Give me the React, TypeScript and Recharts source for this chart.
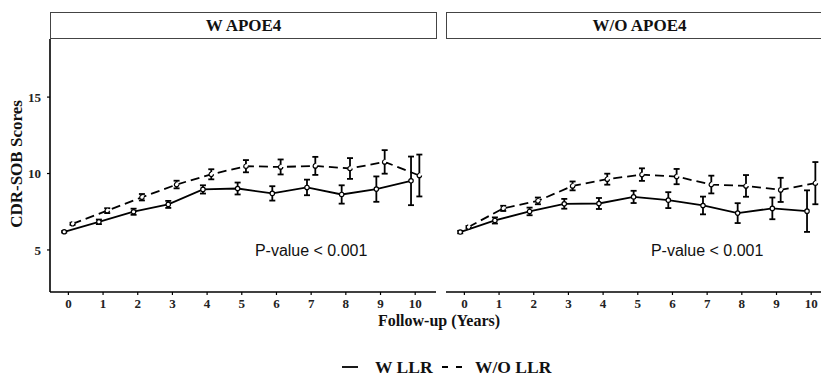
import { ErrorBar, Line, LineChart, ReferenceDot, XAxis, YAxis } from 'recharts'

const YEARS = [0, 1, 2, 3, 4, 5, 6, 7, 8, 9, 10]
const X_TICKS = YEARS
const Y_TICKS = [5, 10, 15]

// W APOE4 panel
const APOE_W_LLR = [6.19, 6.84, 7.5, 7.98, 8.96, 9.02, 8.7, 9.09, 8.63, 8.98, 9.52]
const APOE_W_LLR_SE = [0.05, 0.15, 0.2, 0.23, 0.27, 0.39, 0.47, 0.51, 0.6, 0.83, 1.59]
const APOE_WO_LLR = [6.71, 7.57, 8.45, 9.28, 9.95, 10.48, 10.43, 10.5, 10.33, 10.76, 9.87]
const APOE_WO_LLR_SE = [0.07, 0.16, 0.21, 0.25, 0.33, 0.4, 0.49, 0.59, 0.68, 0.77, 1.37]

// W/O APOE4 panel
const NOAPOE_W_LLR = [6.17, 6.93, 7.52, 8.02, 8.04, 8.47, 8.26, 7.91, 7.41, 7.72, 7.54]
const NOAPOE_W_LLR_SE = [0.08, 0.2, 0.25, 0.32, 0.36, 0.4, 0.52, 0.58, 0.65, 0.71, 1.36]
const NOAPOE_WO_LLR = [6.5, 7.72, 8.21, 9.19, 9.63, 9.93, 9.8, 9.28, 9.19, 8.93, 9.37]
const NOAPOE_WO_LLR_SE = [0.07, 0.17, 0.22, 0.29, 0.36, 0.41, 0.5, 0.58, 0.71, 0.79, 1.38]

const PANELS = ['W APOE4', 'W/O APOE4']
const SERIES = ['W LLR', 'W/O LLR']
const P_LABEL = 'P-value < 0.001'

const DODGE = 0.12
const X_DOMAIN = [-0.53, 10.6]
const Y_DOMAIN = [2.25, 18.8]

const SERIF = '"Liberation Serif", "Times New Roman", serif'
const SANS = '"Liberation Sans", Arial, sans-serif'
const INK = '#111'

type Row = { x: number; y: number; se: number }

function rows(values: number[], se: number[], shift: number): Row[] {
  return YEARS.map((yr, i) => ({ x: yr + shift, y: values[i], se: se[i] }))
}

const tickStyle = { fontFamily: SERIF, fontWeight: 700, fontSize: 13, fill: '#222' }
const dotStyle = { r: 2.2, fill: '#fff', stroke: '#000', strokeWidth: 1.2 }

function Panel({
  solid,
  dashed,
  showY,
  width,
}: {
  solid: Row[]
  dashed: Row[]
  showY: boolean
  width: number
}) {
  return (
    <LineChart
      width={width}
      height={376}
      margin={{ top: 39, right: 0, bottom: 54, left: 0 }}
    >
      <XAxis
        type="number"
        dataKey="x"
        domain={X_DOMAIN}
        ticks={X_TICKS}
        allowDataOverflow
        height={30}
        tick={tickStyle}
        tickSize={3}
        tickMargin={4}
        axisLine={{ stroke: '#000', strokeWidth: 1.6 }}
        tickLine={{ stroke: '#000', strokeWidth: 1.2 }}
      />
      <YAxis
        type="number"
        domain={Y_DOMAIN}
        ticks={Y_TICKS}
        allowDataOverflow
        hide={!showY}
        width={50}
        tick={tickStyle}
        tickSize={3}
        tickMargin={6}
        axisLine={{ stroke: '#000', strokeWidth: 1.6 }}
        tickLine={{ stroke: '#000', strokeWidth: 1.2 }}
      />
      <Line
        data={solid}
        dataKey="y"
        stroke="#000"
        strokeWidth={1.8}
        dot={dotStyle}
        isAnimationActive={false}
      >
        <ErrorBar dataKey="se" width={3} stroke="#000" strokeWidth={1.8} direction="y" />
      </Line>
      <Line
        data={dashed}
        dataKey="y"
        stroke="#000"
        strokeWidth={1.8}
        strokeDasharray="9 5"
        dot={dotStyle}
        isAnimationActive={false}
      >
        <ErrorBar dataKey="se" width={3} stroke="#000" strokeWidth={1.8} direction="y" />
      </Line>
      <ReferenceDot
        x={7}
        y={5}
        r={0}
        fill="none"
        stroke="none"
        label={{ value: P_LABEL, position: 'center', fill: INK, fontSize: 16, fontFamily: SANS }}
      />
    </LineChart>
  )
}

function Strip({ left, width, text }: { left: number; width: number; text: string }) {
  return (
    <div
      style={{
        position: 'absolute',
        left,
        top: 12,
        width,
        height: 27,
        boxSizing: 'border-box',
        border: '1px solid #444',
        display: 'flex',
        alignItems: 'center',
        justifyContent: 'center',
        fontFamily: SERIF,
        fontWeight: 700,
        fontSize: 17,
        color: INK,
      }}
    >
      {text}
    </div>
  )
}

const legendText = {
  position: 'absolute' as const,
  top: 357,
  lineHeight: '20px',
  fontFamily: SERIF,
  fontWeight: 700,
  fontSize: 17.5,
  color: INK,
  whiteSpace: 'nowrap' as const,
}

export default function App() {
  return (
    <div
      style={{
        position: 'absolute',
        left: 0,
        top: 0,
        width: 821,
        height: 376,
        overflow: 'hidden',
        background: '#fff',
      }}
    >
      <Strip left={50} width={387} text={PANELS[0]} />
      <Strip left={446} width={387} text={PANELS[1]} />

      <div style={{ position: 'absolute', left: 0, top: 0 }}>
        <Panel
          solid={rows(APOE_W_LLR, APOE_W_LLR_SE, -DODGE)}
          dashed={rows(APOE_WO_LLR, APOE_WO_LLR_SE, DODGE)}
          showY
          width={436}
        />
      </div>
      <div style={{ position: 'absolute', left: 446, top: 0 }}>
        <Panel
          solid={rows(NOAPOE_W_LLR, NOAPOE_W_LLR_SE, -DODGE)}
          dashed={rows(NOAPOE_WO_LLR, NOAPOE_WO_LLR_SE, DODGE)}
          showY={false}
          width={386}
        />
      </div>

      {/* axis titles */}
      <div
        style={{
          position: 'absolute',
          left: 339,
          width: 200,
          top: 312,
          lineHeight: '18px',
          textAlign: 'center',
          fontFamily: SERIF,
          fontWeight: 700,
          fontSize: 16,
          color: INK,
        }}
      >
        Follow-up (Years)
      </div>
      <div
        style={{
          position: 'absolute',
          left: 17,
          top: 164,
          transform: 'translate(-50%, -50%) rotate(-90deg)',
          whiteSpace: 'nowrap',
          fontFamily: SERIF,
          fontWeight: 700,
          fontSize: 17,
          color: INK,
        }}
      >
        CDR-SOB Scores
      </div>

      {/* legend */}
      <svg style={{ position: 'absolute', left: 342, top: 362 }} width={16} height={10}>
        <line x1={0} y1={5} x2={16} y2={5} stroke="#000" strokeWidth={1.8} />
      </svg>
      <div style={{ ...legendText, left: 375 }}>{SERIES[0]}</div>
      <svg style={{ position: 'absolute', left: 442, top: 362 }} width={20} height={10}>
        <line x1={0} y1={5} x2={20} y2={5} stroke="#000" strokeWidth={1.8} strokeDasharray="6 8" />
      </svg>
      <div style={{ ...legendText, left: 475 }}>{SERIES[1]}</div>
    </div>
  )
}
